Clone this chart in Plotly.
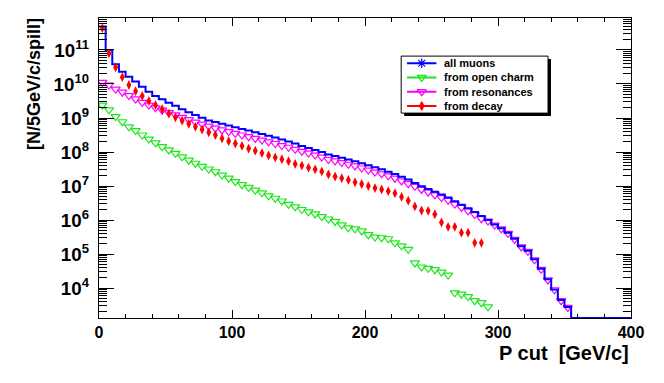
import numpy as np
import plotly.graph_objects as go

# P cut binning: 5 GeV/c bins from 0 to 400
bin_width = 5.0
n_bins = 80

# log10 of [N/5GeV/c/spill] per bin; trailing empty bins left out
all_muons_log = [
    11.69, 11.00, 10.58, 10.36, 10.21, 10.07, 9.92, 9.77, 9.65, 9.55,
    9.45, 9.36, 9.26, 9.17, 9.09, 9.01, 8.93, 8.88, 8.83, 8.78,
    8.73, 8.68, 8.63, 8.58, 8.53, 8.48, 8.43, 8.37, 8.31, 8.25,
    8.18, 8.12, 8.06, 8.00, 7.93, 7.88, 7.83, 7.78, 7.73, 7.67,
    7.61, 7.55, 7.49, 7.42, 7.35, 7.27, 7.19, 7.09, 6.99, 6.91,
    6.83, 6.75, 6.66, 6.55, 6.45, 6.35, 6.24, 6.12, 6.00, 5.87,
    5.76, 5.63, 5.45, 5.23, 5.10, 4.85, 4.57, 4.26, 3.96, 3.65,
    3.44,
]
open_charm_log = [
    9.38, 9.24, 9.04, 8.89, 8.74, 8.63, 8.50, 8.38, 8.27, 8.16,
    8.06, 7.96, 7.86, 7.76, 7.67, 7.58, 7.50, 7.42, 7.32, 7.23,
    7.13, 7.04, 6.96, 6.88, 6.80, 6.71, 6.64, 6.56, 6.46, 6.39,
    6.31, 6.24, 6.18, 6.10, 6.03, 5.96, 5.86, 5.77, 5.74, 5.68,
    5.57, 5.50, 5.48, 5.45, 5.33, 5.24, 5.14, 4.74, 4.62, 4.58,
    4.54, 4.47, 4.38, 3.86, 3.82, 3.75, 3.63, 3.57, 3.45,
]
resonances_log = [
    10.05, 9.97, 9.85, 9.76, 9.66, 9.56, 9.46, 9.38, 9.30, 9.23,
    9.16, 9.09, 9.02, 8.95, 8.88, 8.82, 8.76, 8.70, 8.65, 8.60,
    8.55, 8.50, 8.45, 8.40, 8.35, 8.30, 8.25, 8.19, 8.14, 8.08,
    8.02, 7.97, 7.91, 7.85, 7.78, 7.74, 7.69, 7.64, 7.59, 7.53,
    7.47, 7.41, 7.36, 7.30, 7.23, 7.15, 7.07, 6.99, 6.90, 6.82,
    6.74, 6.66, 6.58, 6.47, 6.37, 6.27, 6.16, 6.04, 5.97, 5.85,
    5.74, 5.61, 5.43, 5.21, 5.08, 4.83, 4.55, 4.24, 3.95, 3.63,
    3.43,
]
decay_log = [
    11.64, 10.90, 10.49, 10.20, 9.97, 9.79, 9.65, 9.50, 9.38, 9.26,
    9.13, 9.02, 8.92, 8.83, 8.74, 8.66, 8.58, 8.50, 8.40, 8.32,
    8.25, 8.18, 8.10, 8.04, 7.97, 7.90, 7.84, 7.79, 7.73, 7.65,
    7.60, 7.54, 7.49, 7.43, 7.34, 7.28, 7.23, 7.18, 7.11, 7.06,
    7.00, 6.94, 6.90, 6.85, 6.79, 6.68, 6.57, 6.40, 6.28, 6.27,
    6.17, 5.93, 5.80, 5.80, 5.63, 5.63, 5.33, 5.33,
]

names = ["all muons", "from open charm", "from resonances", "from decay"]
colors = ["#0000ff", "#1ee61e", "#ff00ff", "#ff0000"]
symbols = ["asterisk-open", "triangle-down-open", "triangle-down-open", "diamond-tall"]

y_range = [3.12, 11.94]

edges = np.arange(n_bins + 1) * bin_width
centers = edges[:-1] + bin_width / 2


def to_counts(logs):
    v = np.full(n_bins, np.nan)
    v[:len(logs)] = 10.0 ** np.array(logs)
    return v


all_muons = to_counts(all_muons_log)
open_charm = to_counts(open_charm_log)
resonances = to_counts(resonances_log)
decay = to_counts(decay_log)

# empty bins of the histogram sit on the bottom of the frame
hist_y = np.where(np.isnan(all_muons), 10 ** y_range[0], all_muons)
hist_y = np.append(hist_y, hist_y[-1])

fig = go.Figure()

fig.add_trace(go.Scatter(
    x=centers, y=resonances, mode="markers",
    marker=dict(symbol=symbols[2], size=8, color=colors[2], line=dict(width=1.2, color=colors[2])),
))
fig.add_trace(go.Scatter(
    x=centers, y=open_charm, mode="markers",
    marker=dict(symbol=symbols[1], size=8, color=colors[1], line=dict(width=1.2, color=colors[1])),
))
fig.add_trace(go.Scatter(
    x=edges, y=hist_y, mode="lines", line_shape="hv",
    line=dict(color=colors[0], width=2),
))
fig.add_trace(go.Scatter(
    x=centers, y=decay, mode="markers",
    marker=dict(symbol=symbols[3], size=7, color=colors[3], line=dict(width=0)),
))

# legend box drawn in a small inset axis
rows = [3.5, 2.5, 1.5, 0.5]
for name, col, sym, row in zip(names, colors, symbols, rows):
    fig.add_trace(go.Scatter(
        x=[0.04, 0.24], y=[row, row], mode="lines", xaxis="x2", yaxis="y2",
        line=dict(color=col, width=2), hoverinfo="skip",
    ))
    fig.add_trace(go.Scatter(
        x=[0.14], y=[row], mode="markers", xaxis="x2", yaxis="y2",
        marker=dict(symbol=sym, size=8 if sym != "diamond-tall" else 6, color=col,
                    line=dict(width=1.2, color=col)),
        hoverinfo="skip",
    ))
    fig.add_annotation(
        x=0.28, y=row, xref="x2", yref="y2", text=name, showarrow=False,
        xanchor="left", yanchor="middle",
        font=dict(size=11, color="black", weight="bold"),
    )

box = dict(x0=0.568, x1=0.844, y0=0.683, y1=0.873)
fig.add_shape(type="rect", xref="paper", yref="paper",
              x0=box["x0"] + 0.0056, x1=box["x1"] + 0.0056,
              y0=box["y0"] - 0.01, y1=box["y1"] - 0.01,
              fillcolor="black", line=dict(width=0), layer="below")
fig.add_shape(type="rect", xref="paper", yref="paper", **box,
              fillcolor="white", line=dict(color="black", width=1), layer="below")

# axis titles, ROOT style (aligned to the axis ends)
fig.add_annotation(
    x=1.0, y=-0.117, xref="paper", yref="paper", text="P cut\u00a0\u00a0[GeV/c]",
    showarrow=False, xanchor="right", yanchor="middle",
    font=dict(size=20, color="black", weight="bold"),
)
fig.add_annotation(
    x=-0.122, y=0.78, xref="paper", yref="paper", text="[N/5GeV/c/spill]",
    showarrow=False, textangle=-90, xanchor="center", yanchor="middle",
    font=dict(size=18, color="black", weight="bold"),
)

# the page body adds an 8px offset, so the figure is 8px smaller than the window
fig.update_layout(
    width=656, height=375,
    margin=dict(l=91, r=33, t=10, b=65),
    paper_bgcolor="white", plot_bgcolor="rgba(0,0,0,0)",
    showlegend=False,
    font=dict(family="Liberation Sans, Arial, sans-serif", color="black"),
    xaxis=dict(
        range=[0, 400], dtick=100, tick0=0, ticks="inside", ticklen=8,
        tickcolor="black", showline=True, linecolor="black", linewidth=1,
        mirror="allticks", showgrid=False, zeroline=False,
        tickfont=dict(size=16, weight="bold"),
        minor=dict(dtick=20, ticks="inside", ticklen=4, tickcolor="black", showgrid=False),
    ),
    yaxis=dict(
        type="log", range=y_range, dtick=1, exponentformat="power", showexponent="all",
        ticks="inside", ticklen=15, tickcolor="black", showline=True, linecolor="black",
        linewidth=1, mirror="allticks", showgrid=False, zeroline=False,
        tickfont=dict(size=15, weight="bold"), ticklabelstandoff=6,
        minor=dict(dtick="D1", ticks="inside", ticklen=8, tickcolor="black", showgrid=False),
    ),
    xaxis2=dict(domain=[0.568, 0.844], anchor="y2", range=[0, 1], visible=False),
    yaxis2=dict(domain=[0.683, 0.873], anchor="x2", range=[0, 4], visible=False),
)

fig.write_html("out.html")
